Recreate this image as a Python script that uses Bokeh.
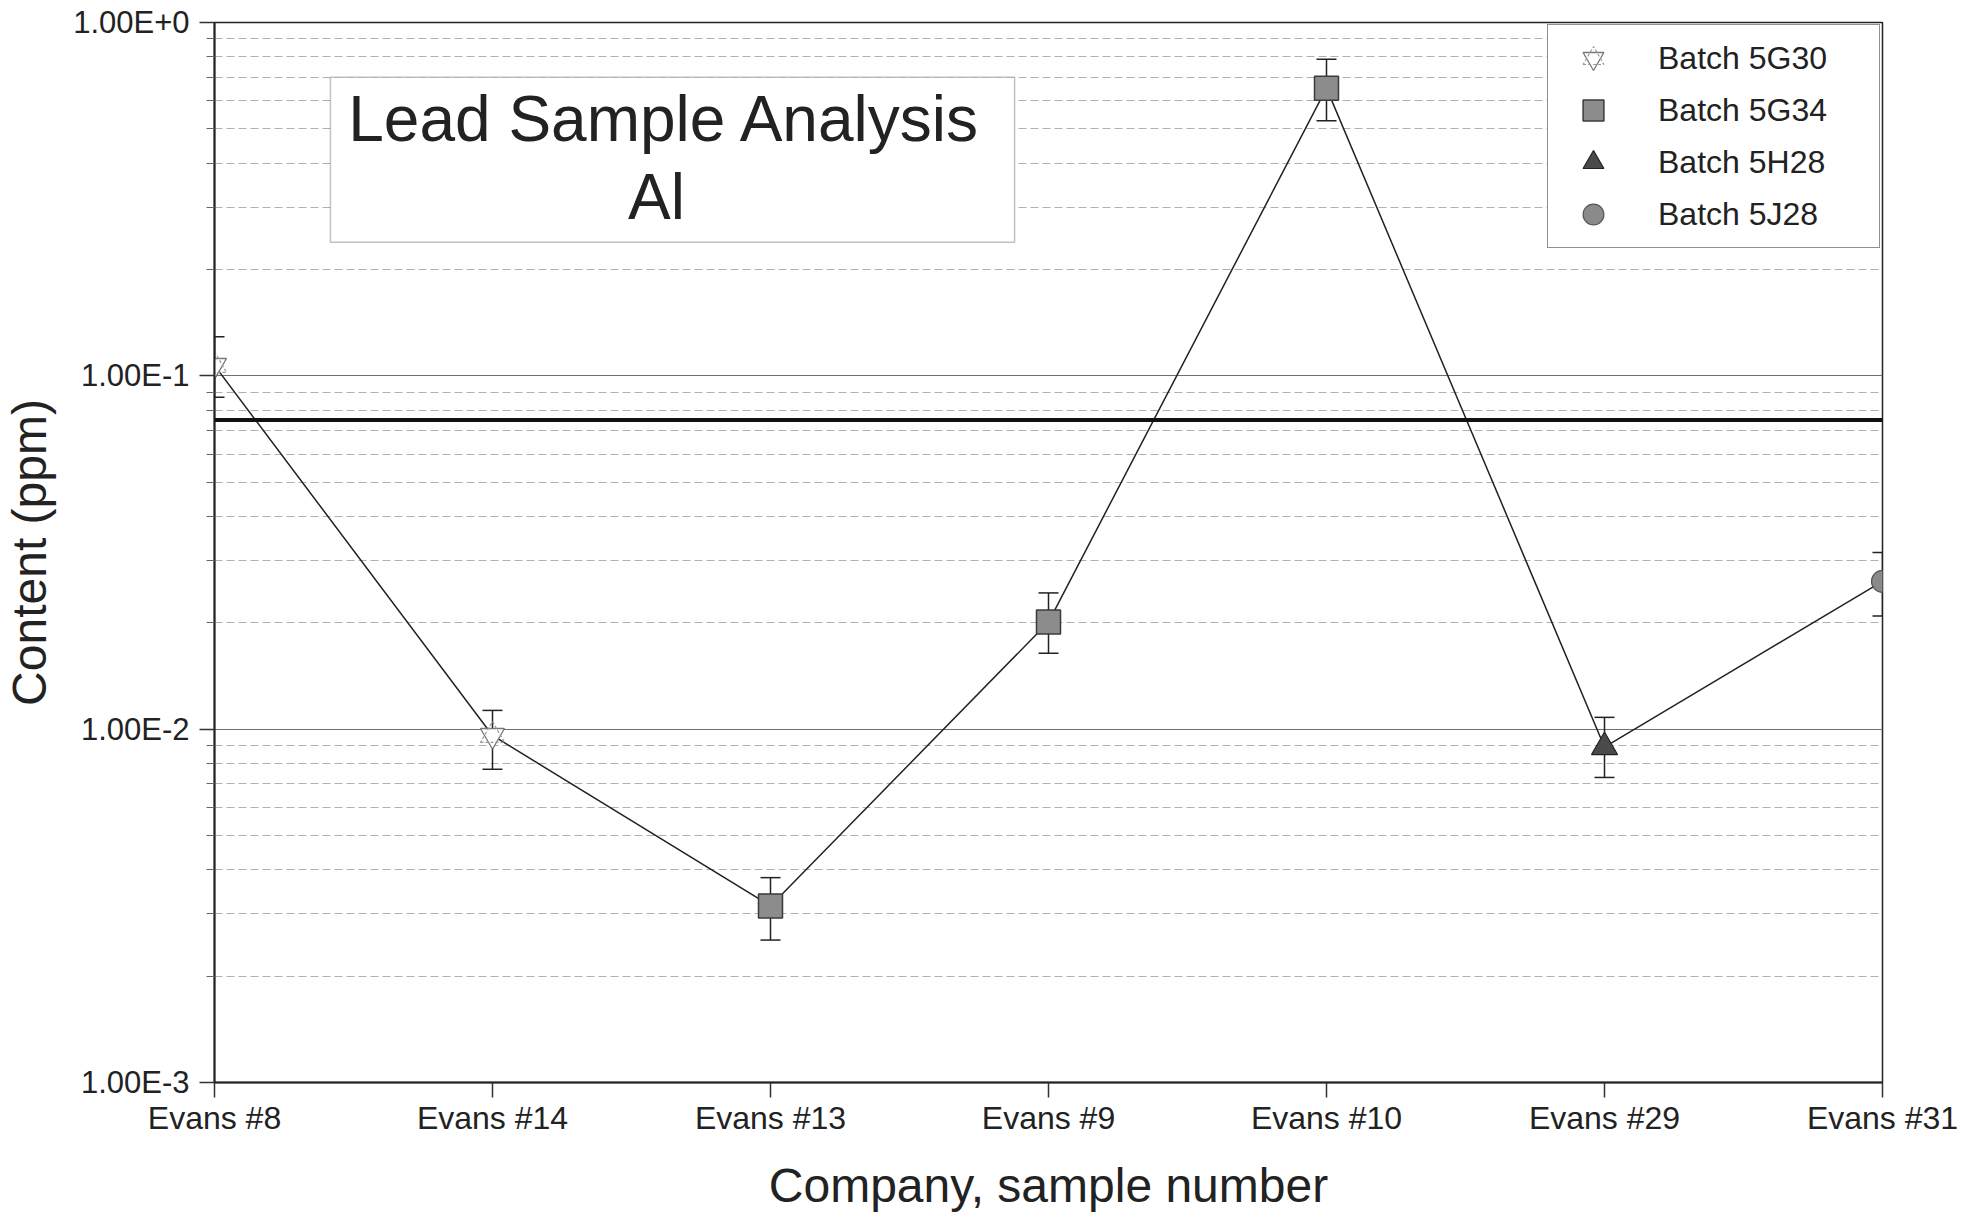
from bokeh.plotting import figure
from bokeh.models import (ColumnDataSource, Whisker, TeeHead, Span, BoxAnnotation, Label,
                          Legend, LegendItem, FixedTicker, CustomJSTickFormatter, Range1d)
from bokeh.embed import file_html
from bokeh.resources import INLINE

# ---- data ----
samples = ["Evans #8", "Evans #14", "Evans #13", "Evans #9", "Evans #10", "Evans #29", "Evans #31"]
batches = ["5G30", "5G30", "5G34", "5G34", "5G34", "5H28", "5J28"]
content = [0.107, 0.0096, 0.00316, 0.0201, 0.652, 0.0089, 0.0262]
err_low = [0.087, 0.0077, 0.00253, 0.0164, 0.527, 0.0073, 0.0209]
err_high = [0.129, 0.0113, 0.0038, 0.0243, 0.787, 0.0108, 0.0316]
limit = 0.075
y_ticks = [0.001, 0.01, 0.1, 1.0]
title_lines = ["Lead Sample Analysis", "Al"]

FONT = "Liberation Sans"
TXT = "#222222"

xs = list(range(len(samples)))

p = figure(width=1965, height=1214, y_axis_type="log",
           x_range=Range1d(xs[0], xs[-1]), y_range=Range1d(y_ticks[0], y_ticks[-1]),
           output_backend="svg", toolbar_location=None,
           min_border_left=212, min_border_right=83, min_border_top=22, min_border_bottom=128)
p.background_fill_color = "white"
p.outline_line_color = "#222222"
p.outline_line_width = 1.5

# axes
minor = [m * 10.0 ** e for e in range(-3, 0) for m in range(2, 10)]
p.yaxis.ticker = FixedTicker(ticks=y_ticks, minor_ticks=minor)
p.yaxis.formatter = CustomJSTickFormatter(code="""
const e = Math.round(Math.log10(tick));
return "1.00E" + (e >= 0 ? "+" : "") + e;
""")
p.xaxis.ticker = FixedTicker(ticks=xs)
p.xaxis.major_label_overrides = {i: s for i, s in zip(xs, samples)}

for ax in (p.xaxis[0], p.yaxis[0]):
    ax.axis_line_color = "#222222"
    ax.axis_line_width = 2
    ax.major_tick_line_color = "#333333"
    ax.major_tick_line_width = 1.5
    ax.major_tick_in = 0
    ax.major_tick_out = 15
    ax.minor_tick_in = 0
    ax.minor_tick_out = 8
    ax.minor_tick_line_color = "#666666"
    ax.major_label_text_font = FONT
    ax.major_label_text_color = TXT
    ax.axis_label_text_font = FONT
    ax.axis_label_text_font_size = "48px"
    ax.axis_label_text_font_style = "normal"
    ax.axis_label_text_color = TXT

p.xaxis.major_label_text_font_size = "32px"
p.yaxis.major_label_text_font_size = "31px"
p.xaxis.axis_label = "Company, sample number"
p.yaxis.axis_label = "Content (ppm)"
p.xaxis.major_label_standoff = 2
p.xaxis.axis_label_standoff = 20
p.yaxis.major_label_standoff = 10
p.yaxis.axis_label_standoff = 14

# grid
p.xgrid.visible = False
p.ygrid.grid_line_color = "#6f6f6f"
p.ygrid.grid_line_width = 1.2
p.ygrid.minor_grid_line_color = "#b0b0b0"
p.ygrid.minor_grid_line_width = 1
p.ygrid.minor_grid_line_dash = "8 4"

# limit line
p.add_layout(Span(location=limit, dimension="width", line_color="#111111", line_width=4))

# connecting line
p.line(xs, content, line_color="#222222", line_width=1.5)

# error bars
err_src = ColumnDataSource(dict(x=xs, lower=err_low, upper=err_high))
p.add_layout(Whisker(base="x", lower="lower", upper="upper", source=err_src,
                     line_color="#222222", line_width=1.5,
                     upper_head=TeeHead(size=20, line_color="#222222", line_width=1.5),
                     lower_head=TeeHead(size=20, line_color="#222222", line_width=1.5)))


def batch_src(b):
    idx = [i for i, bb in enumerate(batches) if bb == b]
    return ColumnDataSource(dict(x=[xs[i] for i in idx], y=[content[i] for i in idx]))


s1 = batch_src("5G30")
r1a = p.scatter("x", "y", source=s1, marker="inverted_triangle", size=24,
                fill_color="white", line_color="#777777", line_width=1.3)
r1b = p.scatter("x", "y", source=s1, marker="triangle", size=24,
                fill_alpha=0, line_color="#999999", line_width=1.2, line_dash="3 2")
s2 = batch_src("5G34")
r2 = p.scatter("x", "y", source=s2, marker="square", size=24,
               fill_color="#8c8c8c", line_color="#3a3a3a", line_width=1.5)
s3 = batch_src("5H28")
r3 = p.scatter("x", "y", source=s3, marker="triangle", size=26,
               fill_color="#4a4a4a", line_color="#222222", line_width=1.2)
s4 = batch_src("5J28")
r4 = p.scatter("x", "y", source=s4, marker="circle", size=22,
               fill_color="#8a8a8a", line_color="#555555", line_width=1.2)

legend = Legend(items=[
    LegendItem(label="Batch 5G30", renderers=[r1a, r1b]),
    LegendItem(label="Batch 5G34", renderers=[r2]),
    LegendItem(label="Batch 5H28", renderers=[r3]),
    LegendItem(label="Batch 5J28", renderers=[r4]),
], location="top_right", margin=2, padding=7, spacing=0,
    glyph_width=76, glyph_height=52, label_height=52, label_width=214, label_standoff=27,
    label_text_font=FONT, label_text_font_size="32px", label_text_color=TXT,
    border_line_color="#222222", border_line_width=1.5,
    background_fill_color="white", background_fill_alpha=1.0)
p.add_layout(legend)

# title box
p.add_layout(BoxAnnotation(left=0.417, right=2.878, top=0.70, bottom=0.239,
                           fill_color="white", fill_alpha=1.0,
                           line_color="#333333", line_width=1.5))
p.add_layout(Label(x=1.62, y=0.532, text=title_lines[0], text_align="center",
                   text_baseline="middle", text_font=FONT, text_font_size="64px",
                   text_color=TXT))
p.add_layout(Label(x=1.59, y=0.32, text=title_lines[1], text_align="center",
                   text_baseline="middle", text_font=FONT, text_font_size="64px",
                   text_color=TXT))

open("out.html", "w").write(file_html(p, INLINE))
